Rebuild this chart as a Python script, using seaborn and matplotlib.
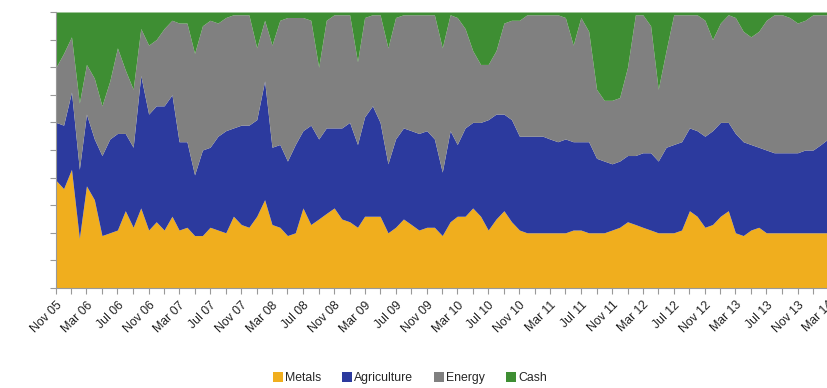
import numpy as np
import pandas as pd
import seaborn as sns
import matplotlib.pyplot as plt
import matplotlib.dates as mdates
from matplotlib.patches import Patch

# monthly allocation shares (%), Nov 2005 - Mar 2014
months = pd.date_range("2005-11-01", periods=101, freq="MS")

metals = [39, 36, 43, 18, 37, 32, 19, 20, 21, 28, 22, 29, 21, 24, 21, 26, 21, 22, 19, 19,
          22, 21, 20, 26, 23, 22, 26, 32, 23, 22, 19, 20, 29, 23, 25, 27, 29, 25, 24, 22,
          26, 26, 26, 20, 22, 25, 23, 21, 22, 22, 19, 24, 26, 26, 29, 26, 21, 25, 28, 24,
          21, 20, 20, 20, 20, 20, 20, 21, 21, 20, 20, 20, 21, 22, 24, 23, 22, 21, 20, 20,
          20, 21, 28, 26, 22, 23, 26, 28, 20, 19, 21, 22, 20, 20, 20, 20, 20, 20, 20, 20, 20]
agriculture = [21, 23, 28, 25, 26, 22, 29, 34, 35, 28, 29, 48, 42, 42, 45, 44, 32, 31, 22, 31,
               29, 34, 37, 32, 36, 37, 35, 43, 28, 30, 27, 32, 28, 36, 29, 31, 29, 33, 36, 30,
               36, 40, 34, 25, 32, 33, 34, 35, 35, 32, 23, 33, 26, 32, 31, 34, 40, 38, 35, 37,
               34, 35, 35, 35, 34, 33, 34, 32, 32, 33, 27, 26, 24, 24, 24, 25, 27, 28, 26, 31,
               32, 32, 30, 31, 33, 34, 34, 32, 36, 34, 31, 29, 30, 29, 29, 29, 29, 30, 30, 32, 34]
energy = [20, 26, 20, 24, 18, 22, 18, 21, 31, 23, 21, 17, 25, 24, 28, 27, 43, 43, 44, 45,
          46, 41, 41, 41, 40, 40, 26, 22, 37, 45, 52, 46, 41, 38, 26, 39, 41, 41, 39, 30,
          36, 33, 39, 42, 44, 41, 42, 43, 42, 45, 45, 42, 46, 36, 26, 21, 20, 23, 33, 36,
          42, 44, 44, 44, 45, 46, 44, 35, 45, 40, 25, 22, 23, 23, 32, 51, 50, 46, 26, 35,
          47, 46, 41, 42, 42, 33, 36, 39, 42, 40, 39, 42, 47, 50, 50, 49, 47, 47, 49, 47, 45]
cash = [20, 15, 9, 33, 19, 24, 34, 25, 13, 21, 28, 6, 12, 10, 6, 3, 4, 4, 15, 5,
        3, 4, 2, 1, 1, 1, 13, 3, 12, 3, 2, 2, 2, 3, 20, 3, 1, 1, 1, 18,
        2, 1, 1, 13, 2, 1, 1, 1, 1, 1, 13, 1, 2, 6, 14, 19, 19, 14, 4, 3,
        3, 1, 1, 1, 1, 1, 2, 12, 2, 7, 28, 32, 32, 31, 20, 1, 1, 5, 28, 14,
        1, 1, 1, 1, 3, 10, 4, 1, 2, 7, 9, 7, 3, 1, 1, 2, 4, 3, 1, 1, 1]

series = ["Metals", "Agriculture", "Energy", "Cash"]
colors = ["#F0AE1E", "#2C3A9E", "#808080", "#3E8E33"]

df = pd.DataFrame({"Metals": metals, "Agriculture": agriculture,
                   "Energy": energy, "Cash": cash}, index=months)
df = df.div(df.sum(axis=1), axis=0) * 100

sns.set_theme(style="white")
plt.rcParams["font.family"] = ["Liberation Sans", "DejaVu Sans"]

fig = plt.figure(figsize=(8.28, 3.88), dpi=100)
ax = fig.add_axes([56 / 828, 100 / 388, 772 / 828, 276 / 388])

ax.stackplot(df.index, [df[s] for s in series], colors=colors, linewidth=0)

ax.set_xlim(df.index[0], df.index[-1])
ax.set_ylim(0, 100)
ax.set_yticks(np.arange(0, 101, 10))
ax.set_yticklabels([])

ax.xaxis.set_major_locator(mdates.MonthLocator(bymonth=[3, 7, 11]))
ax.xaxis.set_minor_locator(mdates.MonthLocator(bymonth=[1, 5, 9]))
ax.xaxis.set_major_formatter(mdates.DateFormatter("%b %y"))
plt.setp(ax.get_xticklabels(), rotation=45, ha="right", rotation_mode="anchor",
         fontsize=8.8, color="#222222")
ax.tick_params(axis="both", which="both", length=4, width=0.8, color="#999999",
               direction="out", bottom=True, left=True)
ax.tick_params(axis="x", which="major", pad=4)

for side in ["top", "right"]:
    ax.spines[side].set_visible(False)
for side in ["left", "bottom"]:
    ax.spines[side].set_color("#999999")
    ax.spines[side].set_linewidth(0.8)

handles = [Patch(facecolor=c, edgecolor="none", label=s) for s, c in zip(series, colors)]
fig.legend(handles=handles, loc="center", bbox_to_anchor=(0.495, 0.025), ncol=4,
           frameon=False, fontsize=8.8, handlelength=0.8, handleheight=0.8,
           handletextpad=0.2, columnspacing=1.7)

fig.savefig("out.png", dpi=100)
